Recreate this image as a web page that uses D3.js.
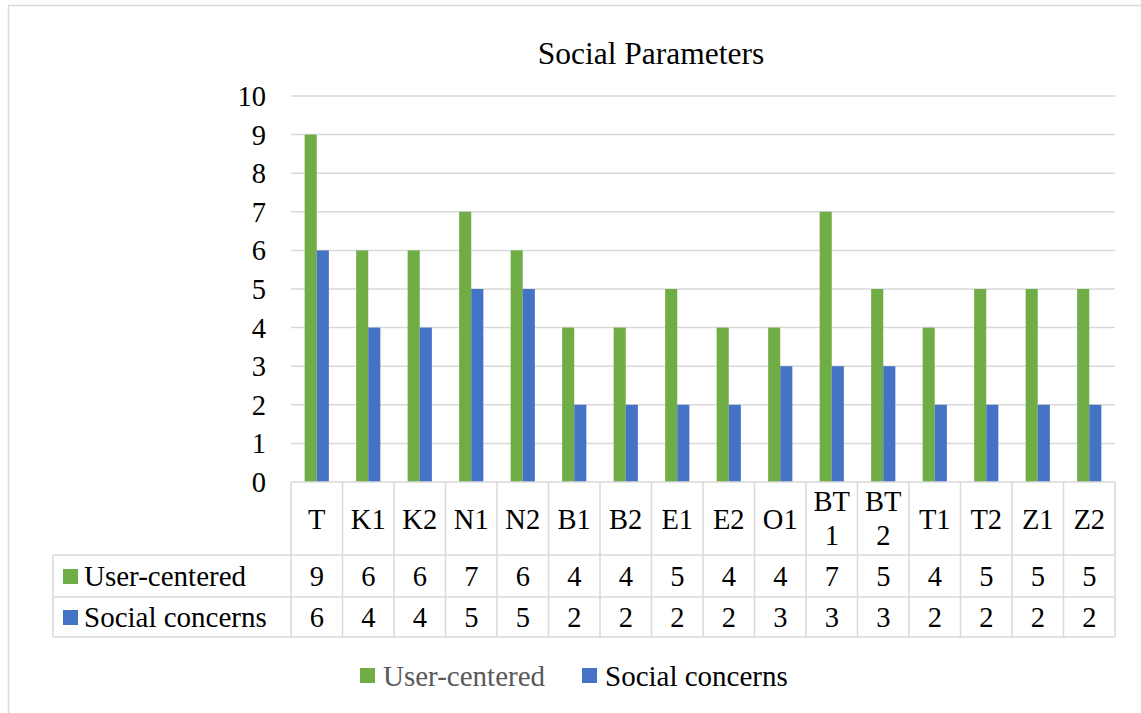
<!DOCTYPE html>
<meta charset="utf-8">
<script src="https://d3js.org/d3.v7.min.js"></script>
<style>
  body { margin: 0; background: #fff; }
</style>
<body>
<div id="chart"></div>
<script>

// data
var categories = ["T", "K1", "K2", "N1", "N2", "B1", "B2", "E1", "E2", "O1", "BT 1", "BT 2", "T1", "T2", "Z1", "Z2"];
var userCentered = [9, 6, 6, 7, 6, 4, 4, 5, 4, 4, 7, 5, 4, 5, 5, 5];
var socialConcerns = [6, 4, 4, 5, 5, 2, 2, 2, 2, 3, 3, 3, 2, 2, 2, 2];
var seriesNames = ["User-centered", "Social concerns"];
var seriesColors = ["#70ad47", "#4472c4"];
var yTicks = [0, 1, 2, 3, 4, 5, 6, 7, 8, 9, 10];

var W = 1141, H = 713;
var plotLeft = 291, plotRight = 1115, plotTop = 96, plotBottom = 482;
var rowHead = 555, row1 = 597, row2 = 637, legendLeft = 53;
var gridColor = "#d9d9d9";
var fontSize = "28.5px";

var svg = d3.select("#chart").append("svg")
  .attr("width", W)
  .attr("height", H)
  .attr("font-family", "'Liberation Serif', 'Times New Roman', serif");

// outer chart border
svg.append("rect")
  .attr("x", 8.5).attr("y", 5.5)
  .attr("width", W + 10).attr("height", H + 10)
  .attr("fill", "none")
  .attr("stroke", gridColor)
  .attr("stroke-width", 1.5);

// title
svg.append("text")
  .attr("x", 651).attr("y", 64)
  .attr("text-anchor", "middle")
  .style("font-size", "31.5px")
  .attr("fill", "#000")
  .text("Social Parameters");

var x = d3.scaleBand()
  .domain(categories)
  .range([plotLeft, plotRight])
  .paddingInner(0.53)
  .paddingOuter(0.265);

var xBand = d3.scaleBand()
  .domain(categories)
  .range([plotLeft, plotRight]);

var y = d3.scaleLinear()
  .domain([0, 10])
  .range([plotBottom, plotTop]);

var xSub = d3.scaleBand()
  .domain(seriesNames)
  .range([0, x.bandwidth()]);

// gridlines
svg.append("g")
  .selectAll("line")
  .data(yTicks.filter(function(d) { return d > 0; }))
  .enter()
  .append("line")
    .attr("x1", plotLeft).attr("x2", plotRight)
    .attr("y1", function(d) { return y(d); })
    .attr("y2", function(d) { return y(d); })
    .attr("stroke", gridColor)
    .attr("stroke-width", 1.5);

// y tick labels
svg.append("g")
  .selectAll("text")
  .data(yTicks)
  .enter()
  .append("text")
    .attr("x", 266)
    .attr("y", function(d) { return y(d) + 10; })
    .attr("text-anchor", "end")
    .style("font-size", fontSize)
    .text(function(d) { return d; });

// bars
var seriesData = [userCentered, socialConcerns];
seriesData.forEach(function(vals, s) {
  svg.append("g")
    .selectAll("rect")
    .data(vals)
    .enter()
    .append("rect")
      .attr("x", function(d, i) { return x(categories[i]) + xSub(seriesNames[s]); })
      .attr("y", function(d) { return y(d); })
      .attr("width", xSub.bandwidth())
      .attr("height", function(d) { return plotBottom - y(d); })
      .attr("fill", seriesColors[s]);
});

// data table
var table = svg.append("g")
  .attr("stroke", gridColor)
  .attr("stroke-width", 1.5)
  .attr("fill", "none");

// horizontal table lines
[[plotLeft, plotBottom], [legendLeft, rowHead], [legendLeft, row1], [legendLeft, row2]].forEach(function(r) {
  table.append("line")
    .attr("x1", r[0]).attr("x2", plotRight)
    .attr("y1", r[1]).attr("y2", r[1]);
});

// vertical table lines
var colEdges = categories.map(function(c) { return xBand(c); }).concat([plotRight]);
table.selectAll("line.v")
  .data(colEdges)
  .enter()
  .append("line")
    .attr("x1", function(d) { return d; })
    .attr("x2", function(d) { return d; })
    .attr("y1", plotBottom)
    .attr("y2", row2);
table.append("line")
  .attr("x1", legendLeft).attr("x2", legendLeft)
  .attr("y1", rowHead).attr("y2", row2);

// category labels
var headMid = (plotBottom + rowHead) / 2;
categories.forEach(function(c) {
  var parts = c.split(" ");
  var cx = xBand(c) + xBand.bandwidth() / 2;
  var t = svg.append("text")
    .attr("x", cx)
    .attr("text-anchor", "middle")
    .style("font-size", fontSize);
  if (parts.length === 1) {
    t.attr("y", headMid + 10).text(c);
  } else {
    t.append("tspan").attr("x", cx).attr("y", headMid - 8).text(parts[0]);
    t.append("tspan").attr("x", cx).attr("y", headMid + 26).text(parts[1]);
  }
});

// table values
var rowMids = [(rowHead + row1) / 2, (row1 + row2) / 2];
seriesData.forEach(function(vals, s) {
  svg.append("g")
    .selectAll("text")
    .data(vals)
    .enter()
    .append("text")
      .attr("x", function(d, i) { return xBand(categories[i]) + xBand.bandwidth() / 2; })
      .attr("y", rowMids[s] + 10)
      .attr("text-anchor", "middle")
      .style("font-size", fontSize)
      .text(function(d) { return d; });

  svg.append("rect")
    .attr("x", 63).attr("y", rowMids[s] - 7)
    .attr("width", 15).attr("height", 15)
    .attr("fill", seriesColors[s]);
  svg.append("text")
    .attr("x", 84).attr("y", rowMids[s] + 10)
    .style("font-size", "29px")
    .text(seriesNames[s]);
});

// bottom legend
var legendItems = [{x: 360, color: "#595959"}, {x: 582, color: "#000"}];
legendItems.forEach(function(item, s) {
  svg.append("rect")
    .attr("x", item.x).attr("y", 668)
    .attr("width", 15).attr("height", 15)
    .attr("fill", seriesColors[s]);
  svg.append("text")
    .attr("x", item.x + 23).attr("y", 686)
    .style("font-size", "29px")
    .attr("fill", item.color)
    .text(seriesNames[s]);
});

</script>
</body>
